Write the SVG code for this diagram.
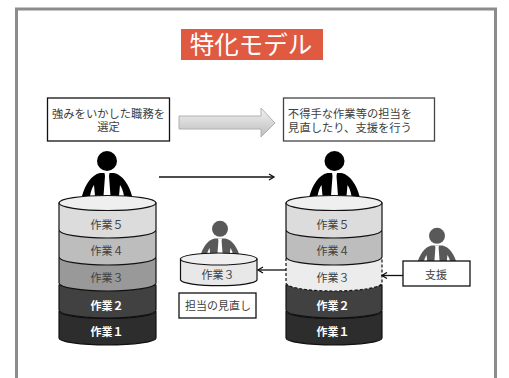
<svg xmlns="http://www.w3.org/2000/svg" xmlns:xlink="http://www.w3.org/1999/xlink" width="509" height="378" viewBox="0 0 509 378">
<style>
text{font-family:"Noto Sans CJK JP","Liberation Sans",sans-serif;text-anchor:middle;fill:#404040;font-size:11px}
.w{fill:#fff;font-weight:700}
.m{font-size:11.300px}
.box{fill:#fff;stroke:#111;stroke-width:1.300}
.s{stroke:#111;stroke-width:1.200}
.con{fill:none;stroke:#111;stroke-width:1.300}
</style>
<defs>
<linearGradient id="g" x1="0" y1="0" x2="0" y2="1"><stop offset="0" stop-color="#f2f2f2"/><stop offset="1" stop-color="#bdbdbd"/></linearGradient>
<marker id="a" markerWidth="8" markerHeight="8" refX="6" refY="4" orient="auto" markerUnits="userSpaceOnUse"><path d="M1 1L6 4L1 7" fill="none" stroke="#111" stroke-width="1.300"/></marker>
<g id="person">
<circle cx="0" cy="-24" r="10"/>
<path d="M-7-12L7-12C16-10 22 0 25 11L17 11C16 6 15 3 13 0L12 11L-12 11L-13 0C-15 3-16 6-17 11L-25 11C-22 0-16-10-7-12Z"/>
<path d="M-2.500-12L2.500-12L2-9L3.500 11L-3.500 11L-2-9Z" fill="#fff"/>
</g>
</defs>
<rect id="frame" x="16.500" y="9" width="479" height="380" fill="#fff" stroke="#8c8c8c" stroke-width="3"/>
<g id="title"><rect x="181" y="29" width="142" height="31" fill="#e05a42"/><text x="251" y="54" style="font-size:24.500px;fill:#fff">特化モデル</text></g>
<g id="box-left"><rect class="box" x="47.500" y="98" width="122" height="43"/><text class="m" x="108.500" y="118">強みをいかした職務を<tspan x="108.500" y="131">選定</tspan></text></g>
<g id="big-arrow"><path d="M179 116H261V108L275 123L261 137V129H179Z" fill="url(#g)" stroke="#b0b0b0"/></g>
<g id="box-right"><rect class="box" x="283.500" y="98" width="151" height="43" style="stroke:#444"/><text class="m" x="350" y="118">不得手な作業等の担当を<tspan x="350" y="132">見直したり、支援を行う</tspan></text></g>

<g id="person-left"><use xlink:href="#person" x="107" y="185"/></g>
<g id="person-right"><use xlink:href="#person" x="334.500" y="185"/></g>
<g id="person-small" fill="#595959"><use xlink:href="#person" transform="translate(220 248) scale(.8)"/></g>
<g id="person-support" fill="#595959"><use xlink:href="#person" transform="translate(437 255) scale(.8)"/></g>

<g id="stack-left">
<path class="s" fill="#2d2d2d" d="M59 311A48.500 7.500 0 0 0 156 311V338A48.500 7 0 0 1 59 338Z"/>
<path class="s" fill="#414141" d="M59 285V310A48.500 8 0 0 0 156 310V285Z"/>
<path class="s" fill="#999" d="M59 258V283A48.500 8 0 0 0 156 283V258Z"/>
<path class="s" fill="#bdbdbd" d="M59 231V257A48.500 8 0 0 0 156 257V231Z"/>
<path class="s" fill="#dcdcdc" d="M59 203V230A48.500 8 0 0 0 156 230V203Z"/>
<ellipse class="s" cx="107.500" cy="203" rx="48.500" ry="7.500" fill="#efefef"/>
<text x="107" y="229">作業５</text><text x="107" y="255">作業４</text><text x="107" y="282">作業３</text><text class="w" x="107" y="310">作業２</text><text class="w" x="107" y="336">作業１</text>
</g>

<g id="stack-right">
<path class="s" fill="#2d2d2d" d="M286 311A48 7.500 0 0 0 382 311V338A48 7 0 0 1 286 338Z"/>
<path class="s" fill="#414141" d="M286 285V310A48 8 0 0 0 382 310V285Z"/>
<path fill="#ececec" stroke="#111" stroke-width="1.200" stroke-dasharray="3 2" d="M286 258V283A48 8 0 0 0 382 283V258"/>
<path class="s" fill="#bdbdbd" d="M286 231V257A48 8 0 0 0 382 257V231Z"/>
<path class="s" fill="#dcdcdc" d="M286 203V230A48 8 0 0 0 382 230V203Z"/>
<ellipse class="s" cx="334" cy="203" rx="48" ry="7.500" fill="#efefef"/>
<text x="333" y="229">作業５</text><text x="333" y="255">作業４</text><text x="333" y="282">作業３</text><text class="w" x="333" y="310">作業２</text><text class="w" x="333" y="336">作業１</text>
</g>

<g id="stack-small">
<path class="s" fill="#e8e8e8" d="M180.500 259V280A38.300 6 0 0 0 257 280V259Z"/>
<ellipse class="s" cx="218.700" cy="259" rx="38.300" ry="6" fill="#efefef"/>
<text x="218" y="279">作業３</text>
</g>
<g id="box-review"><rect class="box" x="179" y="293" width="77" height="25"/><text x="218" y="310">担当の見直し</text></g>
<g id="box-support"><rect class="box" x="403" y="261" width="67" height="25"/><text x="436" y="279">支援</text></g>

<g id="connectors">
<path class="con" d="M159 177H274" marker-end="url(#a)"/>
<path class="con" d="M286 270H258" marker-end="url(#a)"/>
<path class="con" d="M403 275.500H382" marker-end="url(#a)"/>
</g>
</svg>
